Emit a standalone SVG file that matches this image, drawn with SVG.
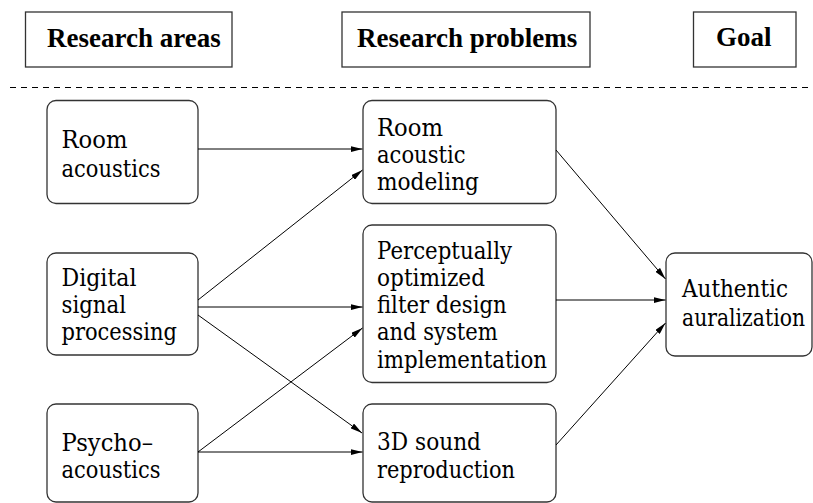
<svg xmlns="http://www.w3.org/2000/svg" width="813" height="503" viewBox="0 0 813 503">
  <style>
    .hdr { fill: #fff; stroke: #333; stroke-width: 1.3; }
    .hdr-t { font-family: 'Liberation Serif', serif; font-weight: bold; font-size: 27px; fill: #000; }
    .box { fill: #fff; stroke: #333; stroke-width: 1.3; }
    .lbl { font-family: 'DejaVu Serif', 'Liberation Serif', serif; font-size: 24.5px; fill: #000; }
    .sep { stroke: #000; stroke-width: 1; stroke-dasharray: 6 5; fill: none; }
    .conn line { stroke: #000; stroke-width: 1; marker-end: url(#arrow); }
  </style>
  <defs>
    <marker id="arrow" markerUnits="userSpaceOnUse" markerWidth="12" markerHeight="6" refX="12" refY="3" orient="auto">
      <path d="M0,0 L12,3 L0,6 z" fill="#000"/>
    </marker>
  </defs>

  <rect width="813" height="503" fill="#fff"/>

  <!-- column headers -->
  <g id="hdr-areas">
    <rect class="hdr" x="25.5" y="12" width="206.5" height="55"/>
    <text class="hdr-t" x="47" y="47">Research areas</text>
  </g>
  <g id="hdr-problems">
    <rect class="hdr" x="342" y="12" width="248" height="55"/>
    <text class="hdr-t" x="357" y="47">Research problems</text>
  </g>
  <g id="hdr-goal">
    <rect class="hdr" x="693.5" y="12" width="102.5" height="55"/>
    <text class="hdr-t" x="716" y="46">Goal</text>
  </g>

  <line class="sep" x1="10" y1="87.5" x2="813" y2="87.5"/>

  <!-- research areas (each line narrowed to a Times-like width) -->
  <g id="room-acoustics">
    <rect class="box" x="47" y="100.5" width="151" height="103" rx="9"/>
    <text class="lbl" x="61.5" y="148" textLength="66" lengthAdjust="spacingAndGlyphs">Room</text>
    <text class="lbl" x="61.5" y="177" textLength="99" lengthAdjust="spacingAndGlyphs">acoustics</text>
  </g>
  <g id="dsp">
    <rect class="box" x="47" y="253" width="151" height="102" rx="9"/>
    <text class="lbl" x="61.5" y="286" textLength="75" lengthAdjust="spacingAndGlyphs">Digital</text>
    <text class="lbl" x="61.5" y="313" textLength="64.5" lengthAdjust="spacingAndGlyphs">signal</text>
    <text class="lbl" x="61.5" y="340" textLength="115.5" lengthAdjust="spacingAndGlyphs">processing</text>
  </g>
  <g id="psychoacoustics">
    <rect class="box" x="47" y="404" width="151" height="98" rx="9"/>
    <text class="lbl" x="61.5" y="451" textLength="91.5" lengthAdjust="spacingAndGlyphs">Psycho–</text>
    <text class="lbl" x="61.5" y="478" textLength="99" lengthAdjust="spacingAndGlyphs">acoustics</text>
  </g>

  <!-- research problems -->
  <g id="room-modeling">
    <rect class="box" x="363" y="100.5" width="193" height="103" rx="9"/>
    <text class="lbl" x="377" y="136" textLength="66" lengthAdjust="spacingAndGlyphs">Room</text>
    <text class="lbl" x="377" y="163" textLength="88.5" lengthAdjust="spacingAndGlyphs">acoustic</text>
    <text class="lbl" x="377" y="190" textLength="102" lengthAdjust="spacingAndGlyphs">modeling</text>
  </g>
  <g id="filter-design">
    <rect class="box" x="363" y="225" width="193" height="157.5" rx="9"/>
    <text class="lbl" x="377" y="259" textLength="135" lengthAdjust="spacingAndGlyphs">Perceptually</text>
    <text class="lbl" x="377" y="286" textLength="108" lengthAdjust="spacingAndGlyphs">optimized</text>
    <text class="lbl" x="377" y="313" textLength="129.7" lengthAdjust="spacingAndGlyphs">filter design</text>
    <text class="lbl" x="377" y="340" textLength="120.7" lengthAdjust="spacingAndGlyphs">and system</text>
    <text class="lbl" x="377" y="368" textLength="170" lengthAdjust="spacingAndGlyphs">implementation</text>
  </g>
  <g id="sound-reproduction">
    <rect class="box" x="363" y="404" width="193" height="98" rx="9"/>
    <text class="lbl" x="377" y="450" textLength="104" lengthAdjust="spacingAndGlyphs">3D sound</text>
    <text class="lbl" x="377" y="478" textLength="138" lengthAdjust="spacingAndGlyphs">reproduction</text>
  </g>

  <!-- goal -->
  <g id="auralization">
    <rect class="box" x="666" y="253" width="146" height="103" rx="9"/>
    <text class="lbl" x="682" y="297" textLength="106" lengthAdjust="spacingAndGlyphs">Authentic</text>
    <text class="lbl" x="682" y="326" textLength="123" lengthAdjust="spacingAndGlyphs">auralization</text>
  </g>

  <!-- connectors -->
  <g id="connectors" class="conn">
    <line x1="198" y1="149" x2="362.5" y2="149"/>
    <line x1="198" y1="300" x2="362.5" y2="170"/>
    <line x1="198" y1="307" x2="362.5" y2="307"/>
    <line x1="198" y1="315" x2="362" y2="433"/>
    <line x1="198" y1="452" x2="362.5" y2="328"/>
    <line x1="198" y1="452" x2="362.5" y2="452"/>
    <line x1="556" y1="150" x2="665.5" y2="279"/>
    <line x1="556" y1="300" x2="665.5" y2="300"/>
    <line x1="556" y1="445" x2="665.5" y2="323"/>
  </g>
</svg>
